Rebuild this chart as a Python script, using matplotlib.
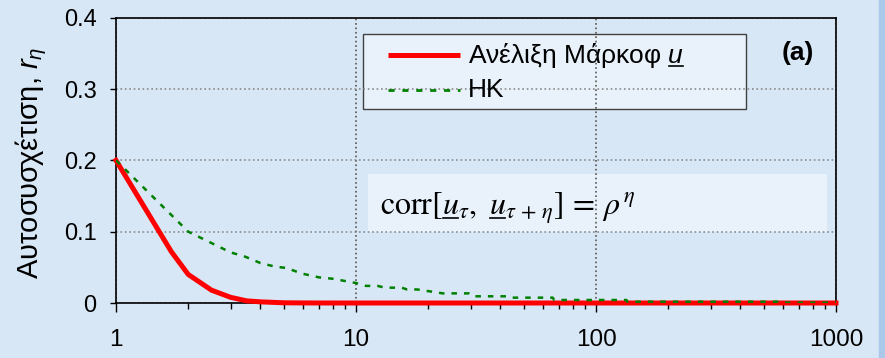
import matplotlib
matplotlib.use("Agg")
import matplotlib.pyplot as plt
from matplotlib.patches import Rectangle
from matplotlib.lines import Line2D
from matplotlib.ticker import LogLocator, NullFormatter

plt.rcParams["font.family"] = ["Liberation Sans", "DejaVu Sans"]
plt.rcParams["mathtext.fontset"] = "custom"
plt.rcParams["mathtext.rm"] = "Liberation Sans"
plt.rcParams["mathtext.it"] = "Liberation Sans:italic"
plt.rcParams["mathtext.bf"] = "Liberation Sans:bold"

BG = "#d8e7f5"
BOX = "#e9f1fa"
W, H = 885, 358

# Ανέλιξη Μάρκοφ (τιμές από το γράφημα)
eta_markov = [1, 1.7, 2, 2.5, 3, 3.5, 4, 5, 6, 8, 10, 100, 1000]
r_markov = [0.2, 0.072, 0.04, 0.018, 0.008, 0.003, 0.0016, 0.0003, 0.0001, 0, 0, 0, 0]

# HK (τιμές από το γράφημα)
eta_hk = [1, 2, 3, 3.45, 4, 4.6, 5.15, 5.7, 6, 7, 8, 10, 11, 12.3, 13.2, 15.5,
          16.3, 18, 23, 29.5, 30.5, 42.5, 44.5, 66, 67, 134, 135, 570, 575, 1000]
r_hk = [0.2, 0.1, 0.071, 0.065, 0.056, 0.051, 0.049, 0.0435, 0.041, 0.036, 0.034,
        0.028, 0.024, 0.024, 0.0215, 0.0215, 0.019, 0.019, 0.0135, 0.0135, 0.0094,
        0.0094, 0.0075, 0.0075, 0.0042, 0.0042, 0.0018, 0.0018, 0.0005, 0.0005]

y_ticks = [0, 0.1, 0.2, 0.3, 0.4]
y_labels = ["0", "0.1", "0.2", "0.3", "0.4"]
x_ticks = [1, 10, 100, 1000]
x_labels = ["1", "10", "100", "1000"]

RED = "#ff0000"
GREEN = "#008000"
GREEN_DASH = (0, (2.2, 2.8))

fig = plt.figure(figsize=(W / 100, H / 100), dpi=100, facecolor=BG)
ax = fig.add_axes([116 / W, 1 - 303 / H, 720 / W, 285.3 / H])
ax.set_facecolor(BG)
fig.patches.append(Rectangle((879 / W, 0), 6 / W, 1, transform=fig.transFigure,
                             color="#a9c8ea", zorder=0))

ax.plot(eta_markov, r_markov, color=RED, lw=3.6, zorder=3, clip_on=False)
ax.plot(eta_hk, r_hk, color=GREEN, lw=1.8, ls=GREEN_DASH, zorder=4)

ax.set_xscale("log")
ax.set_xlim(1, 1000)
ax.set_ylim(0, 0.4)
ax.set_xticks(x_ticks)
ax.set_xticklabels(x_labels)
ax.xaxis.set_minor_locator(LogLocator(base=10, subs=range(2, 10)))
ax.xaxis.set_minor_formatter(NullFormatter())
ax.set_yticks(y_ticks)
ax.set_yticklabels(y_labels)

ax.tick_params(axis="y", direction="out", length=4.5, width=1, pad=9.4, labelsize=17)
ax.tick_params(axis="x", which="major", direction="out", length=6.5, width=1,
               pad=12, labelsize=17.5)
ax.tick_params(axis="x", which="minor", direction="out", length=4.3, width=1)

ax.set_axisbelow("line")
ax.grid(True, axis="y", color="#8a8a8a", ls=":", lw=1.2)
ax.grid(True, axis="x", which="major", color="#555555", ls=":", lw=1.2)
for sp in ax.spines.values():
    sp.set_color("black")
    sp.set_linewidth(1.2)


def ay(py):
    # pixel από πάνω -> συντεταγμένη άξονα
    return (303 - py) / 285.3


def axx(px):
    return (px - 116) / 720


# υπόμνημα (χειροκίνητα, για να μπει υπογράμμιση στο u)
ax.add_patch(Rectangle((axx(363), ay(109)), axx(746) - axx(363), ay(34) - ay(109),
                       transform=ax.transAxes, facecolor=BOX, edgecolor="#404040",
                       lw=1, zorder=1))
ax.plot([axx(388), axx(460)], [ay(55), ay(55)], transform=ax.transAxes,
        color=RED, lw=3.6, zorder=5, solid_capstyle="butt")
ax.plot([axx(388), axx(460)], [ay(90), ay(90)], transform=ax.transAxes,
        color=GREEN, lw=2.0, ls=GREEN_DASH, zorder=5)
leg_kw = dict(transform=ax.transAxes, fontsize=19, va="baseline", ha="left", zorder=5)
ax.text(axx(468), ay(63), "Ανέλιξη Μάρκοφ $u$", **leg_kw)
ax.text(axx(468), ay(97), "HK", **leg_kw)

# πλαίσιο τύπου
ax.add_patch(Rectangle((0.35, 0.249), 0.6375, 0.203, transform=ax.transAxes,
                       facecolor=BOX, edgecolor="none", zorder=1))
f_kw = dict(transform=ax.transAxes, fontsize=23, math_fontfamily="stix",
            va="baseline", ha="left", zorder=5)
formula = r"$\mathrm{corr}[u_{\tau},\ u_{\tau\,+\,\eta}]\,=\,\rho^{\,\eta}$"
ax.text(axx(380), ay(215), formula, **f_kw)

ax.text(0.947, 0.876, "(a)", transform=ax.transAxes, fontsize=19,
        fontweight="bold", ha="center", va="center", zorder=5)

fig.text(31 / W, 0.545, r"Αυτοσυσχέτιση, $r_\eta$", rotation=90,
         fontsize=21, ha="center", va="center")

# υπογραμμίσεις κάτω από τα u
fig.canvas.draw()
rend = fig.canvas.get_renderer()


def underline(x, y, upto_u, kw):
    t = ax.text(x, y, upto_u, **kw)
    tu = ax.text(x, y, "$u$", **kw)
    x1 = t.get_window_extent(rend).x1
    wu = tu.get_window_extent(rend).width
    t.remove()
    tu.remove()
    yb = ax.transAxes.transform((x, y))[1] - 2.5
    fig.add_artist(Line2D([(x1 - wu + 1) / W, (x1 - 1) / W], [yb / H, yb / H],
                          transform=fig.transFigure, color="black", lw=1.2,
                          zorder=6))


underline(axx(468), ay(63), "Ανέλιξη Μάρκοφ $u$", leg_kw)
underline(axx(380), ay(215), r"$\mathrm{corr}[u$", f_kw)
underline(axx(380), ay(215), r"$\mathrm{corr}[u_{\tau},\ u$", f_kw)

fig.savefig("out.png", dpi=100, facecolor=BG)
